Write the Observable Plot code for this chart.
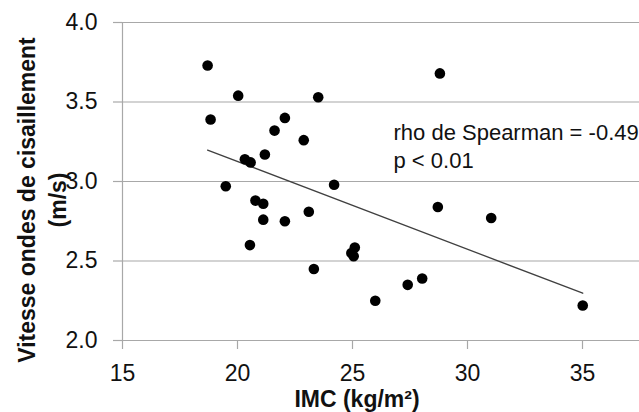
<!DOCTYPE html>
<html>
<head>
<meta charset="utf-8">
<script src="https://cdn.jsdelivr.net/npm/d3@7"></script>
<script src="https://cdn.jsdelivr.net/npm/@observablehq/plot@0.6"></script>
<style>
  html, body { margin: 0; padding: 0; background: #fff; }
  #chart svg { display: block; }
</style>
</head>
<body>
<div id="chart"></div>
<script>
// IMC (kg/m²) of each subject
const imc = [18.70, 20.03, 18.83, 23.51, 22.06, 21.61, 22.88, 21.19, 20.32, 20.57,
             19.49, 20.78, 21.12, 23.10, 28.80, 24.20, 28.71, 21.12, 22.06, 20.54,
             23.32, 31.03, 25.10, 24.95, 25.05, 27.40, 28.03, 25.99, 35.01];
// Shear wave velocity (m/s)
const vitesse = [3.73, 3.54, 3.39, 3.53, 3.40, 3.32, 3.26, 3.17, 3.14, 3.12,
                 2.97, 2.88, 2.86, 2.81, 3.68, 2.98, 2.84, 2.76, 2.75, 2.60,
                 2.45, 2.77, 2.585, 2.55, 2.53, 2.35, 2.39, 2.25, 2.22];

const xTicks = [15, 20, 25, 30, 35];
const yTicks = [2.0, 2.5, 3.0, 3.5, 4.0];
const xTitle = "IMC (kg/m²)";
const yTitle = "Vitesse ondes de cisaillement\n(m/s)";
const annotation = "rho de Spearman = -0.49\np < 0.01";

const data = imc.map((x, i) => ({x, y: vitesse[i]}));

const W = 639, H = 412;
const mL = 122, mR = 0, mT = 22, mB = 72;
const pxPerUnit = 23; // horizontal pixels per IMC unit
const xMax = 15 + (W - mL - mR) / pxPerUnit;

const grid = "#a8a8a8";

const chart = Plot.plot({
  width: W,
  height: H,
  marginLeft: mL,
  marginRight: mR,
  marginTop: mT,
  marginBottom: mB,
  style: {fontFamily: "'Liberation Sans', Arial, sans-serif", color: "#111", background: "#fff"},
  x: {domain: [15, xMax]},
  y: {domain: [2, 4]},
  marks: [
    Plot.gridY(yTicks, {stroke: grid, strokeOpacity: 1, strokeWidth: 1.2}),
    Plot.ruleX([15], {stroke: grid, strokeWidth: 1.2}),
    Plot.ruleY([2], {stroke: grid, strokeWidth: 1.2}),
    Plot.axisY(yTicks, {
      tickSize: 9, tickPadding: 16, stroke: grid, strokeWidth: 1.2,
      tickFormat: d3.format(".1f"), fontSize: 23, fill: "#111", label: null
    }),
    Plot.axisX(xTicks, {
      tickSize: 9, tickPadding: 15, stroke: grid, strokeWidth: 1.2,
      tickFormat: d => String(d), fontSize: 23, fill: "#111", label: null
    }),
    Plot.linearRegressionY(data, {x: "x", y: "y", ci: 0, stroke: "#404040", strokeWidth: 1.3}),
    Plot.dot(data, {x: "x", y: "y", r: 5.3, fill: "#000", stroke: "none"}),
    Plot.text([annotation], {
      frameAnchor: "top-left", textAnchor: "start", lineAnchor: "top",
      dx: 271, dy: 97.5, fontSize: 22, lineHeight: 1.27, fill: "#111"
    }),
    Plot.text([xTitle], {
      frameAnchor: "bottom", textAnchor: "middle", lineAnchor: "top", dx: -24, dy: 50,
      fontSize: 23, fontWeight: "bold", fill: "#111"
    }),
    Plot.text([yTitle], {
      frameAnchor: "left", textAnchor: "middle", rotate: -90, lineAnchor: "middle",
      dx: -81.5, dy: 18.5,
      fontSize: 23, fontWeight: "bold", lineHeight: 1.35, fill: "#111"
    })
  ]
});

document.getElementById("chart").appendChild(chart);
</script>
</body>
</html>
